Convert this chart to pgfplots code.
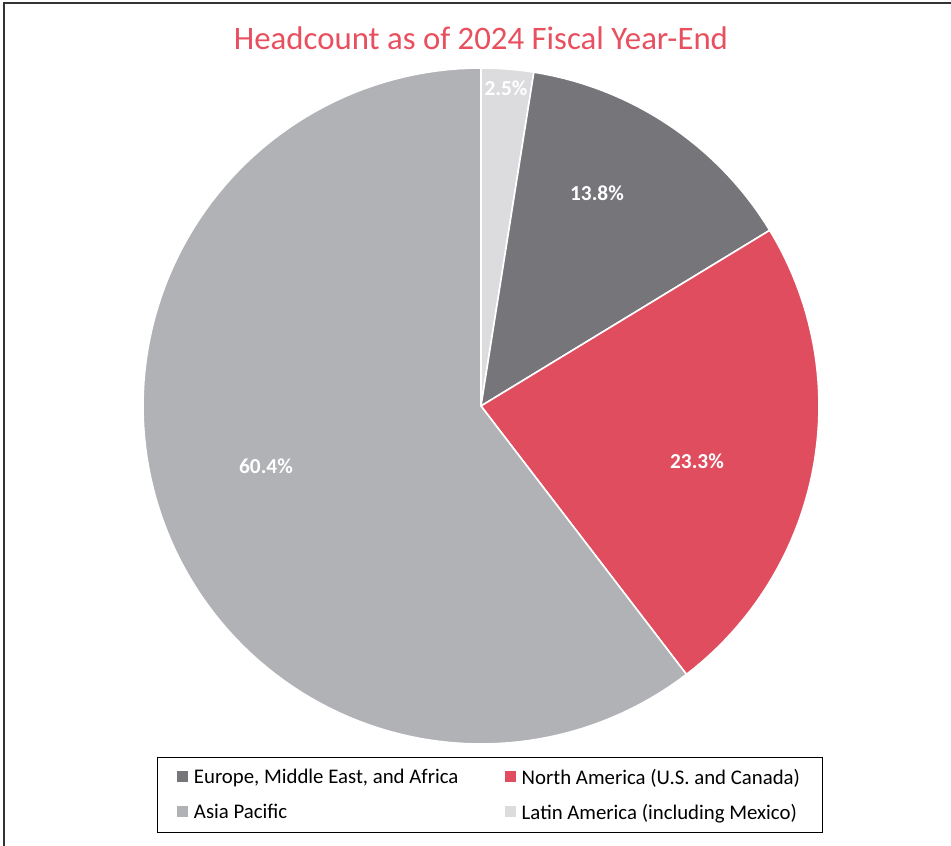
\documentclass[border=0pt]{standalone}
\usepackage{pgfplots}
\usepackage{pgfplotstable}
\pgfplotsset{compat=1.18}
\usepackage{fontspec}
\setmainfont{Carlito}
\definecolor{latam}{HTML}{DCDCDE}
\definecolor{emea}{HTML}{76757A}
\definecolor{nam}{HTML}{E04D5F}
\definecolor{apac}{HTML}{B1B2B6}
\definecolor{titlered}{HTML}{E8505F}
\definecolor{frame}{HTML}{333333}

\pgfplotstableread{
region pct
LatAm 2.5
EMEA 13.8
NAm 23.3
APAC 60.4
}\headcount
\pgfplotstablegetelem{0}{pct}\of\headcount\pgfmathsetmacro\aA{3.6*\pgfplotsretval}%
\pgfplotstablegetelem{1}{pct}\of\headcount\pgfmathsetmacro\aB{\aA+3.6*\pgfplotsretval}%
\pgfplotstablegetelem{2}{pct}\of\headcount\pgfmathsetmacro\aC{\aB+3.6*\pgfplotsretval}%

\begin{document}%
\begin{tikzpicture}
\begin{axis}[
  x=0.75pt, y=0.75pt,
  xmin=0, xmax=951, ymin=0, ymax=846,
  hide axis, clip=false,
  legend columns=2,
  legend cell align=left,
  legend image code/.code={\path[draw=none, fill=none] (0pt,0pt) rectangle (10.5pt,0.1pt);\fill[#1, draw=none] (0pt,-3.4pt) rectangle (8.25pt,4.85pt);},
  legend style={at={(490/951,51/846)}, anchor=center, draw=black, line width=1pt,
    font=\fontsize{15.6}{18}\selectfont, inner xsep=15pt, inner ysep=6.5pt,
    row sep=9.5pt,
    /tikz/every even column/.append style={column sep=33pt}},
]
\fill[white] (axis cs:0,0) rectangle (axis cs:951,846);
\coordinate (BL) at (axis cs:0,0);
\coordinate (TR) at (axis cs:951,846);
\draw[frame, line width=1.5pt] (axis cs:4,0) -- (axis cs:4,843) -- (axis cs:951,843);

\addplot[forget plot, fill=latam, draw=white, line width=1.2pt, domain=0:\aA, samples=8]
  ({481+338*sin(x)},{440+338*cos(x)}) -- (axis cs:481,440) -- cycle;
\addplot[forget plot, fill=emea, draw=white, line width=1.2pt, domain=\aA:\aB, samples=30]
  ({481+338*sin(x)},{440+338*cos(x)}) -- (axis cs:481,440) -- cycle;
\addplot[forget plot, fill=nam, draw=white, line width=1.2pt, domain=\aB:\aC, samples=50]
  ({481+338*sin(x)},{440+338*cos(x)}) -- (axis cs:481,440) -- cycle;
\addplot[forget plot, fill=apac, draw=white, line width=1.2pt, domain=\aC:360, samples=120]
  ({481+338*sin(x)},{440+338*cos(x)}) -- (axis cs:481,440) -- cycle;

\addlegendimage{fill=emea}
\addlegendentry{Europe, Middle East, and Africa}
\addlegendimage{fill=nam}
\addlegendentry{North America (U.S. and Canada)}
\addlegendimage{fill=apac}
\addlegendentry{Asia Pacific}
\addlegendimage{fill=latam}
\addlegendentry{Latin America (including Mexico)}

\node[text=titlered, font=\fontsize{24.6}{29}\selectfont] at (axis cs:481,808) {Headcount as of 2024 Fiscal Year-End};
\begin{scope}[every node/.style={text=white, font=\bfseries\fontsize{16}{18}\selectfont}]
\node at (axis cs:506,758) {2.5\%};
\node at (axis cs:597,653) {13.8\%};
\node at (axis cs:697,385) {23.3\%};
\node at (axis cs:266,380) {60.4\%};
\end{scope}
\end{axis}
\pgfresetboundingbox
\path[use as bounding box] (BL) rectangle (TR);
\end{tikzpicture}%
\end{document}
